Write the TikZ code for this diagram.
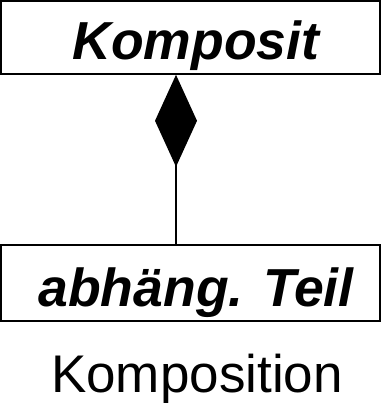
\documentclass[tikz,border=0pt]{standalone}
\usepackage{fontspec}
\setmainfont{Liberation Sans}
\usetikzlibrary{arrows.meta}
\begin{document}
\begin{tikzpicture}[x=1pt,y=1pt,
  classbox/.style={draw=black, line width=1.6pt, fill=white, minimum width=379pt, inner sep=0pt},
  boldlabel/.style={anchor=base, inner sep=0pt, font=\fontsize{53.5}{58}\selectfont\bfseries\itshape},
  plainlabel/.style={anchor=base, inner sep=0pt, font=\fontsize{53}{58}\selectfont}]
\useasboundingbox (0,0) rectangle (382,406);
\node[classbox, minimum height=73pt] (top) at (190.5,368.5) {};
\node[classbox, minimum height=76pt] (bot) at (190.5,123) {};
\node[boldlabel] (toplabel) at (196,346) {Komposit};
\node[boldlabel] (botlabel) at (196,99) {abhäng. Teil};
\node[plainlabel] (caption) at (197,13) {Komposition};
\coordinate (ax) at (176,0);
\draw[line width=1.6pt, -{Diamond[length=92pt,width=42pt]}] (ax |- bot.north) -- (ax |- top.south);
\end{tikzpicture}
\end{document}
